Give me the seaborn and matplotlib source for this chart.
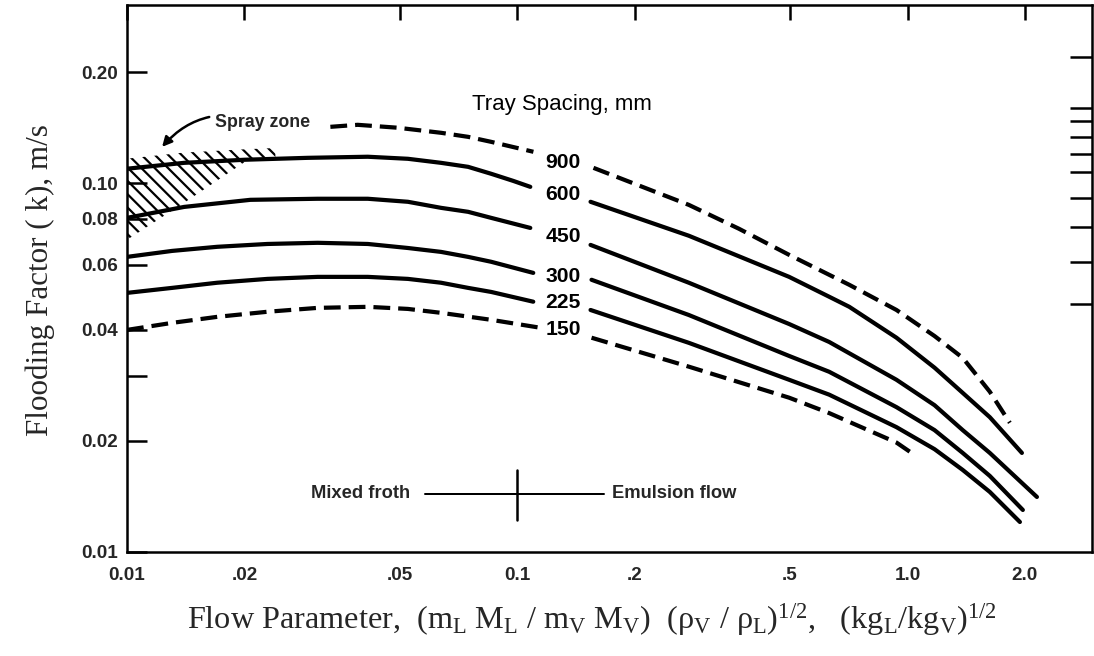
import matplotlib
matplotlib.use("Agg")
import matplotlib.pyplot as plt
import numpy as np
import pandas as pd
import seaborn as sns

# ---------------- data ----------------
spacing_labels = ["900", "600", "450", "300", "225", "150"]
dashed_curves = ["900", "150"]

x_900_a = [0.0332, 0.0390, 0.0494, 0.0638, 0.0748, 0.0857, 0.110]
y_900_a = [0.1421, 0.1439, 0.1413, 0.1369, 0.1335, 0.1294, 0.1216]
x_900_b = [0.1568, 0.2752, 0.370, 0.4974, 0.7094, 0.937, 1.173, 1.385, 1.625, 1.829]
y_900_b = [0.1100, 0.0873, 0.0752, 0.0639, 0.0530, 0.0453, 0.0385, 0.0336, 0.0272, 0.0224]

x_600_a = [0.0100, 0.01401, 0.0200, 0.02903, 0.0414, 0.05246, 0.06377, 0.07482, 0.08574, 0.09766, 0.1080]
y_600_a = [0.1094, 0.1135, 0.1157, 0.1171, 0.1179, 0.1164, 0.1135, 0.1107, 0.1060, 0.1014, 0.0977]
x_600_b = [0.1541, 0.2752, 0.4974, 0.6300, 0.7094, 0.937, 1.173, 1.385, 1.625, 1.964]
y_600_b = [0.0890, 0.0720, 0.0557, 0.0492, 0.0462, 0.0381, 0.0316, 0.0270, 0.0232, 0.01856]

x_450_a = [0.0100, 0.01401, 0.02071, 0.0308, 0.0414, 0.05246, 0.06377, 0.07482, 0.08574, 0.1080]
y_450_a = [0.0805, 0.0862, 0.0901, 0.0907, 0.0907, 0.0890, 0.0857, 0.0836, 0.0805, 0.0756]
x_450_b = [0.1541, 0.2752, 0.4974, 0.6300, 0.937, 1.173, 1.385, 1.625, 2.146]
y_450_b = [0.0680, 0.0537, 0.0415, 0.0371, 0.0293, 0.0250, 0.0214, 0.01856, 0.0141]

x_300_a = [0.0100, 0.01305, 0.01703, 0.0229, 0.0308, 0.0414, 0.05246, 0.06377, 0.07482, 0.08574, 0.1099]
y_300_a = [0.0631, 0.0655, 0.0672, 0.0684, 0.0689, 0.0684, 0.0667, 0.0651, 0.0631, 0.0612, 0.0571]
x_300_b = [0.1550, 0.2752, 0.4974, 0.6300, 0.937, 1.173, 1.385, 1.625, 1.975]
y_300_b = [0.0547, 0.0439, 0.0340, 0.0308, 0.0247, 0.0214, 0.01856, 0.01608, 0.0130]

x_225_a = [0.0100, 0.01305, 0.01703, 0.0229, 0.0308, 0.0414, 0.05246, 0.06377, 0.07482, 0.08574, 0.1099]
y_225_a = [0.0504, 0.0520, 0.0537, 0.0550, 0.0557, 0.0557, 0.0550, 0.0537, 0.0520, 0.0507, 0.0477]
x_225_b = [0.1541, 0.2752, 0.4974, 0.6300, 0.937, 1.173, 1.385, 1.625, 1.941]
y_225_b = [0.0453, 0.0369, 0.0293, 0.0267, 0.0218, 0.0190, 0.01669, 0.01455, 0.01206]

x_150_a = [0.0100, 0.01305, 0.01703, 0.0229, 0.0308, 0.0414, 0.05246, 0.06377, 0.08574, 0.1153]
y_150_a = [0.0400, 0.0418, 0.0434, 0.0448, 0.0459, 0.0462, 0.0456, 0.0445, 0.0426, 0.0405]
x_150_b = [0.1550, 0.2752, 0.4974, 0.6300, 0.937, 1.042]
y_150_b = [0.0381, 0.0318, 0.0262, 0.0238, 0.0198, 0.01833]

# curve labels (tray spacing, mm)
label_x = 0.131
label_y = [0.1135, 0.0930, 0.0715, 0.0557, 0.0474, 0.0400]

# spray zone (hatched) boundaries
spray_x = [0.010, 0.014, 0.0205]
spray_top = [0.1094, 0.1135, 0.1160]
spray_bottom = [0.0702, 0.0884, 0.1160]
spray_edge_x = [0.010, 0.014, 0.020, 0.024]
spray_edge_lo = [0.1094, 0.1135, 0.1157, 0.1165]
spray_edge_hi = [0.1165, 0.1210, 0.1235, 0.1245]

# flow regime marker
regime_y = 0.0144
regime_x_line = [0.058, 0.1664]
regime_x_mark = 0.1
regime_mark_y = [0.0122, 0.0167]

x_ticks = [0.01, 0.02, 0.05, 0.1, 0.2, 0.5, 1.0, 2.0]
x_ticklabels = ["0.01", ".02", ".05", "0.1", ".2", ".5", "1.0", "2.0"]
y_ticks = [0.01, 0.02, 0.03, 0.04, 0.06, 0.08, 0.10, 0.20]
y_ticklabels = ["0.01", "0.02", "", "0.04", "0.06", "0.08", "0.10", "0.20"]
right_ticks = [0.22, 0.16, 0.147, 0.133, 0.12, 0.107, 0.091, 0.076, 0.061, 0.047]

# ---------------- build long table ----------------
rows = []
segs = {
    "900": [(x_900_a, y_900_a), (x_900_b, y_900_b)],
    "600": [(x_600_a, y_600_a), (x_600_b, y_600_b)],
    "450": [(x_450_a, y_450_a), (x_450_b, y_450_b)],
    "300": [(x_300_a, y_300_a), (x_300_b, y_300_b)],
    "225": [(x_225_a, y_225_a), (x_225_b, y_225_b)],
    "150": [(x_150_a, y_150_a), (x_150_b, y_150_b)],
}
for name, seglist in segs.items():
    for i, (xs, ys) in enumerate(seglist):
        for xv, yv in zip(xs, ys):
            rows.append({"curve": name, "seg": i, "x": xv, "y": yv})
df = pd.DataFrame(rows)

# ---------------- styling ----------------
sns.set_theme(style="white")
DPI = 80
plt.rcParams["font.family"] = ["Liberation Sans", "DejaVu Sans"]
plt.rcParams["mathtext.fontset"] = "custom"
plt.rcParams["mathtext.rm"] = "Liberation Serif"
plt.rcParams["mathtext.it"] = "Liberation Serif:italic"
plt.rcParams["hatch.linewidth"] = 2.0
plt.rcParams["hatch.color"] = "black"

px = 72.0 / DPI  # points per pixel

fig = plt.figure(figsize=(1094 / DPI, 656 / DPI), dpi=DPI, facecolor="white")
ax = fig.add_axes([127 / 1094, 1 - 552 / 656, (1092 - 127) / 1094, (552 - 5) / 656])
ax.set_facecolor("white")

LW = 4.2 * px
for (name, seg), sub in df.groupby(["curve", "seg"], sort=False):
    ls = (0, (4.0, 1.9)) if name in dashed_curves else "-"
    sns.lineplot(data=sub, x="x", y="y", ax=ax, color="black", linewidth=LW,
                 linestyle=ls, estimator=None, sort=True, legend=False)

# spray zone hatching
ax.fill_between(spray_x, spray_bottom, spray_top, facecolor="none",
                edgecolor="black", hatch="\\\\", linewidth=0)
ax.fill_between(spray_edge_x, spray_edge_lo, spray_edge_hi, facecolor="none",
                edgecolor="black", hatch="\\\\", linewidth=0)

ax.set_xscale("log")
ax.set_yscale("log")
ax.set_xlim(0.01, 2.97)
ax.set_ylim(0.01, 0.304)

ax.set_xticks(x_ticks)
ax.set_xticklabels(x_ticklabels)
ax.set_yticks(y_ticks)
ax.set_yticklabels(y_ticklabels)
ax.minorticks_off()
ax.tick_params(axis="x", which="major", direction="in", length=15 * px, width=2.5 * px,
               top=True, labeltop=False, pad=15 * px, labelsize=17, color="black")
ax.tick_params(axis="y", which="major", direction="in", length=20 * px, width=2.5 * px,
               right=False, pad=9 * px, labelsize=17, color="black")
for lab in ax.get_xticklabels() + ax.get_yticklabels():
    lab.set_fontweight("bold")
for s in ax.spines.values():
    s.set_linewidth(2.5 * px)
    s.set_color("black")
ax.set_xlabel("")
ax.set_ylabel("")

ax2 = ax.twinx()
ax2.set_yscale("log")
ax2.set_ylim(ax.get_ylim())
ax2.set_yticks(right_ticks)
ax2.set_yticklabels([])
ax2.minorticks_off()
ax2.tick_params(axis="y", direction="in", length=22 * px, width=2.5 * px, color="black")
for s in ax2.spines.values():
    s.set_visible(False)

# curve labels
for lab, yv in zip(spacing_labels, label_y):
    ax.text(label_x, yv, lab, ha="center", va="center", fontsize=19,
            fontweight="bold", color="black")
ax.text(0.1305, 0.1631, "Tray Spacing, mm", ha="center", va="center",
        fontsize=20, color="black")

# spray zone annotation
ax.annotate("Spray zone", xy=(0.0123, 0.1254), xytext=(0.01683, 0.1457),
            ha="left", va="center", fontsize=16, fontweight="bold",
            arrowprops=dict(arrowstyle="-|>", color="black", lw=2.5 * px,
                            mutation_scale=18,
                            connectionstyle="arc3,rad=0.35",
                            shrinkA=3, shrinkB=0))

# regime marker
ax.plot(regime_x_line, [regime_y, regime_y], color="black", lw=2 * px)
ax.plot([regime_x_mark, regime_x_mark], regime_mark_y, color="black", lw=2.5 * px)
ax.text(0.053, regime_y, "Mixed froth", ha="right", va="center", fontsize=16.5,
        fontweight="bold")
ax.text(0.1744, regime_y, "Emulsion flow", ha="left", va="center", fontsize=16.5,
        fontweight="bold")

# axis titles
fig.text(40 / 1094, 1 - 280 / 656, "Flooding Factor ( k), m/s", rotation=90,
         ha="center", va="center", fontsize=28, family="Liberation Serif")
fig.text(592 / 1094, 1 - 620 / 656,
         r"Flow Parameter,  (m$_{\rm L}$ M$_{\rm L}$ / m$_{\rm V}$ M$_{\rm V}$)  "
         r"(ρ$_{\rm V}$ / ρ$_{\rm L}$)$^{1/2}$,   (kg$_{\rm L}$/kg$_{\rm V}$)$^{1/2}$",
         ha="center", va="center", fontsize=29, family="Liberation Serif")

fig.savefig("out.png", dpi=DPI, facecolor="white")
